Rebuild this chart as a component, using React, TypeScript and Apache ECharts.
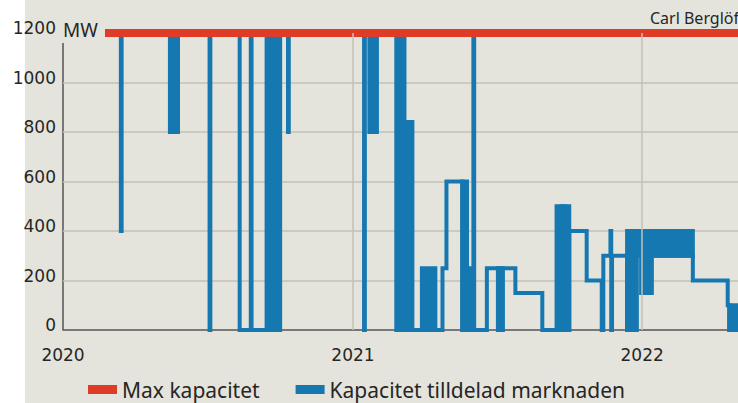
import React, { useEffect, useRef } from 'react';
import * as echarts from 'echarts';

// ---- data ----
const xStart = '2020-01-01';
const xEnd = '2022-05-02';
const yearTicks = ['2020-01-01', '2021-01-01', '2022-01-01'];
const yMax = 1200;
const yStep = 200;

const maxCapDates = ['2020-02-23', '2022-05-02'];
const maxCapValues = [1200, 1200];

// step changes of the allocated capacity (value holds until next date)
const allocDates = [
  '2020-02-23', '2020-03-14', '2020-03-15', '2020-05-15', '2020-05-25',
  '2020-07-04', '2020-07-05', '2020-08-11', '2020-08-25', '2020-08-26',
  '2020-10-01', '2020-10-11', '2020-10-12',
  '2021-01-15', '2021-01-16', '2021-01-22', '2021-01-31', '2021-02-25',
  '2021-04-24', '2021-04-29', '2021-05-19', '2021-05-25', '2021-05-30',
  '2021-06-02', '2021-06-03', '2021-06-19', '2021-07-03', '2021-07-09',
  '2021-07-25', '2021-08-28', '2021-09-21', '2021-09-26', '2021-10-01',
  '2021-10-23', '2021-11-11', '2021-11-13', '2021-11-22', '2021-11-23',
  '2021-11-24', '2021-12-13', '2021-12-25', '2021-12-31', '2022-01-04',
  '2022-01-08', '2022-01-13', '2022-03-06', '2022-04-19', '2022-04-21',
  '2022-05-02',
];
const allocValues = [
  1200, 400, 1200, 800, 1200,
  0, 1200, 0, 1200, 0,
  1200, 800, 1200,
  0, 1200, 800, 1200, 0,
  250, 600, 0, 250, 0,
  1200, 0, 250, 0, 250,
  150, 0, 250, 0, 400,
  200, 0, 300, 400, 0,
  300, 0, 300, 150, 300,
  150, 300, 200, 100, 0,
  0,
];

// periods where the allocation switched back and forth (drawn solid)
const bandStarts = [
  '2020-05-15', '2020-09-14', '2021-01-22', '2021-02-25', '2021-03-07',
  '2021-03-29', '2021-05-19', '2021-07-03', '2021-09-15', '2021-09-21',
  '2021-09-26', '2021-12-13', '2021-12-25', '2021-12-31', '2022-01-04',
  '2022-01-08', '2022-01-13', '2022-04-21',
];
const bandEnds = [
  '2020-05-25', '2020-10-01', '2021-01-31', '2021-03-07', '2021-03-17',
  '2021-04-15', '2021-05-25', '2021-07-09', '2021-09-21', '2021-09-26',
  '2021-10-01', '2021-12-25', '2021-12-31', '2022-01-04', '2022-01-08',
  '2022-01-13', '2022-03-06', '2022-05-02',
];
const bandLows = [800, 0, 800, 0, 0, 0, 0, 0, 0, 250, 0, 0, 300, 150, 300, 150, 300, 0];
const bandHighs = [1200, 1200, 1200, 1200, 840, 250, 600, 250, 500, 500, 500, 400, 400, 400, 400, 400, 400, 100];

const SERIES_MAX = 'Max kapacitet';
const SERIES_ALLOC = 'Kapacitet tilldelad marknaden';

const RED = '#de3c26';
const BLUE = '#1578b0';
const GRID = '#c3c1b8';
const TEXT = '#262626';

const ts = (d: string) => {
  const [y, m, dd] = d.split('-').map(Number);
  return Date.UTC(y, m - 1, dd);
};

export default function App() {
  const ref = useRef<HTMLDivElement>(null);

  useEffect(() => {
    if (!ref.current) return;
    const chart = echarts.init(ref.current, undefined, { renderer: 'svg' });

    const allocData = allocDates.map((d, i) => [ts(d), allocValues[i]]);
    const maxData = maxCapDates.map((d, i) => [ts(d), maxCapValues[i]]);
    const bandData = bandStarts.map((s, i) => [ts(s), ts(bandEnds[i]), bandLows[i], bandHighs[i]]);

    const splitColors = [] as string[];
    for (let v = 0; v <= yMax; v += yStep) {
      splitColors.push(v === 0 || v === yMax ? 'rgba(0,0,0,0)' : GRID);
    }

    chart.setOption({
      animation: false,
      backgroundColor: 'transparent',
      grid: { left: 63, top: 33, right: 0, bottom: 73, containLabel: false },
      xAxis: {
        type: 'value',
        min: ts(xStart),
        max: ts(xEnd),
        axisLine: { show: true, lineStyle: { color: '#555', width: 1.5 } },
        axisTick: { show: false },
        splitLine: { show: false },
        axisLabel: {
          customValues: yearTicks.map(ts),
          formatter: (v: number) => String(new Date(v).getUTCFullYear()),
          fontFamily: 'DejaVu Sans',
          fontSize: 17,
          color: TEXT,
          margin: 16,
        },
      },
      yAxis: {
        type: 'value',
        min: 0,
        max: yMax,
        interval: yStep,
        axisLine: { show: false },
        axisTick: { show: false },
        splitLine: { show: true, lineStyle: { color: splitColors, width: 1.5 } },
        axisLabel: {
          formatter: (v: number) => String(v),
          fontFamily: 'DejaVu Sans',
          fontSize: 17,
          color: TEXT,
          margin: 7,
          verticalAlign: 'bottom',
          lineHeight: 10,
        },
      },
      legend: {
        left: 83,
        top: 374,
        icon: 'rect',
        itemWidth: 29,
        itemHeight: 9,
        itemGap: 36,
        data: [SERIES_MAX, SERIES_ALLOC],
        textStyle: { fontFamily: 'Noto Sans', fontSize: 21, color: TEXT },
      },
      graphic: [
        {
          type: 'line',
          shape: { x1: 63, y1: 43, x2: 63, y2: 330 },
          style: { stroke: '#555', lineWidth: 1.5 },
          z: 0,
        },
        {
          type: 'text',
          x: 63,
          y: 30,
          style: { text: 'MW', fontFamily: 'Noto Sans', fontSize: 19, fill: TEXT, verticalAlign: 'middle', align: 'left' },
        },
        {
          type: 'text',
          x: 739,
          y: 18,
          style: { text: 'Carl Berglöf', fontFamily: 'Noto Sans', fontSize: 16, fill: TEXT, verticalAlign: 'middle', align: 'right' },
        },
      ],
      series: [
        {
          name: 'years',
          type: 'line',
          data: [],
          z: 1,
          silent: true,
          markLine: {
            silent: true,
            symbol: 'none',
            label: { show: false },
            lineStyle: { color: GRID, width: 1.5, type: 'solid' },
            data: yearTicks.slice(1).map((d) => ({ xAxis: ts(d) })),
          },
        },
        {
          name: SERIES_ALLOC,
          type: 'custom',
          z: 2,
          silent: true,
          data: bandData,
          encode: { x: [0, 1], y: [2, 3] },
          renderItem: (params: any, api: any) => {
            const p1 = api.coord([api.value(0), api.value(3)]);
            const p2 = api.coord([api.value(1), api.value(2)]);
            const cs = params.coordSys;
            const shape = echarts.graphic.clipRectByRect(
              { x: p1[0] - 2, y: p1[1] - 2, width: p2[0] - p1[0] + 4, height: p2[1] - p1[1] + 4 },
              { x: cs.x, y: cs.y - 5, width: cs.width, height: cs.height + 10 }
            );
            return shape && { type: 'rect', shape, style: { fill: BLUE } };
          },
          itemStyle: { color: BLUE },
        },
        {
          name: SERIES_ALLOC,
          type: 'line',
          step: 'end',
          z: 2,
          showSymbol: false,
          symbol: 'none',
          data: allocData,
          lineStyle: { color: BLUE, width: 4, join: 'miter' },
          itemStyle: { color: BLUE },
        },
        {
          name: SERIES_MAX,
          type: 'line',
          z: 3,
          showSymbol: false,
          symbol: 'none',
          data: maxData,
          lineStyle: { color: RED, width: 8, cap: 'butt' },
          itemStyle: { color: RED },
        },
      ],
    });

    return () => chart.dispose();
  }, []);

  return (
    <div style={{ position: 'fixed', left: 0, top: 0, width: 738, height: 403, background: '#ffffff', overflow: 'hidden' }}>
      <div style={{ position: 'absolute', left: 25, top: 0, width: 713, height: 403, background: '#e5e4dc' }} />
      <div ref={ref} style={{ position: 'absolute', left: 0, top: 0, width: 738, height: 403 }} />
    </div>
  );
}
